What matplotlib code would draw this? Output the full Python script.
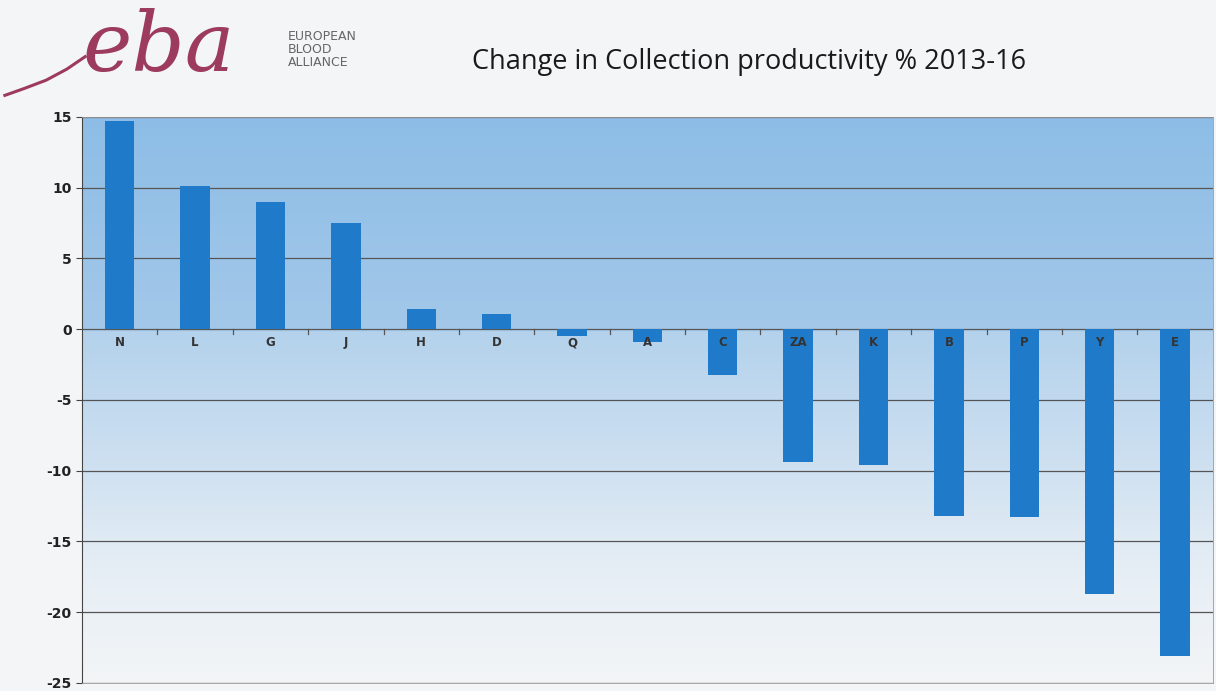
import numpy as np
import matplotlib

matplotlib.use("Agg")
import matplotlib.pyplot as plt
from matplotlib.colors import LinearSegmentedColormap
from matplotlib.lines import Line2D

categories = ["N", "L", "G", "J", "H", "D", "Q", "A", "C", "ZA", "K", "B", "P", "Y", "E"]
values = [14.7, 10.1, 9.0, 7.5, 1.4, 1.1, -0.5, -0.9, -3.2, -9.4, -9.6, -13.2, -13.3, -18.7, -23.1]
y_ticks = [15, 10, 5, 0, -5, -10, -15, -20, -25]
title = "Change in Collection productivity % 2013-16"

fig = plt.figure(figsize=(12.16, 6.91), dpi=100)
fig.patch.set_facecolor("#f4f5f6")
ax = fig.add_axes([0.0674, 0.0116, 0.930, 0.8191])

# background gradient: blue at the top fading to near white at the bottom
bg = LinearSegmentedColormap.from_list(
    "bg", [(0.0, "#f3f5f7"), (0.2, "#e6eef5"), (0.42, "#cadef0"), (0.62, "#b4d2ec"),
           (0.625, "#a3c8e9"), (1.0, "#8dbde6")]
)
grad = np.linspace(0, 1, 256).reshape(-1, 1)
ax.imshow(grad, cmap=bg, aspect="auto", origin="lower", extent=[0, 1, 0, 1],
          transform=ax.transAxes, zorder=0)

x = np.arange(len(categories))
ax.bar(x, values, width=0.39, color="#1f7bc9", zorder=3)

ax.set_xlim(-0.5, len(categories) - 0.5)
ax.set_ylim(-25, 15)
ax.set_yticks(y_ticks)
ax.set_yticklabels([str(v) for v in y_ticks], fontweight="bold", fontsize=10, color="#222222")
ax.tick_params(axis="y", length=4, color="#444444")
ax.set_xticks([])
for v in y_ticks:
    ax.axhline(v, color="#555555", linewidth=0.9, zorder=2)

# small category separator ticks under the zero line
for xs in x[:-1] + 0.5:
    ax.plot([xs, xs], [0, -0.35], color="#555555", linewidth=0.9, zorder=2)

for xi, lab in zip(x, categories):
    ax.text(xi, -0.5, lab, ha="center", va="top", fontsize=8.5, fontweight="bold",
            color="#333333", zorder=4)

for side in ["top", "right", "bottom"]:
    ax.spines[side].set_color("#999999")
    ax.spines[side].set_linewidth(0.6)
ax.spines["left"].set_color("#444444")

fig.text(0.616, 0.91, title, ha="center", va="center", fontsize=19.5, family="Open Sans", color="#1a1a1a")

# logo
fig.text(0.068, 0.897, "eba", ha="left", va="baseline", fontsize=60, family="DejaVu Serif",
         style="italic", color="#9c3b5e")
sw_x = np.array([0.004, 0.020, 0.038, 0.055, 0.070])
sw_y = np.array([0.862, 0.872, 0.884, 0.900, 0.918])
fig.add_artist(Line2D(sw_x, sw_y, transform=fig.transFigure, color="#9c3b5e", linewidth=2.2))
fig.text(0.237, 0.928, "EUROPEAN\nBLOOD\nALLIANCE", ha="left", va="center", fontsize=9,
         color="#666666", linespacing=1.0)

fig.savefig("out.png", dpi=100, facecolor=fig.get_facecolor())
